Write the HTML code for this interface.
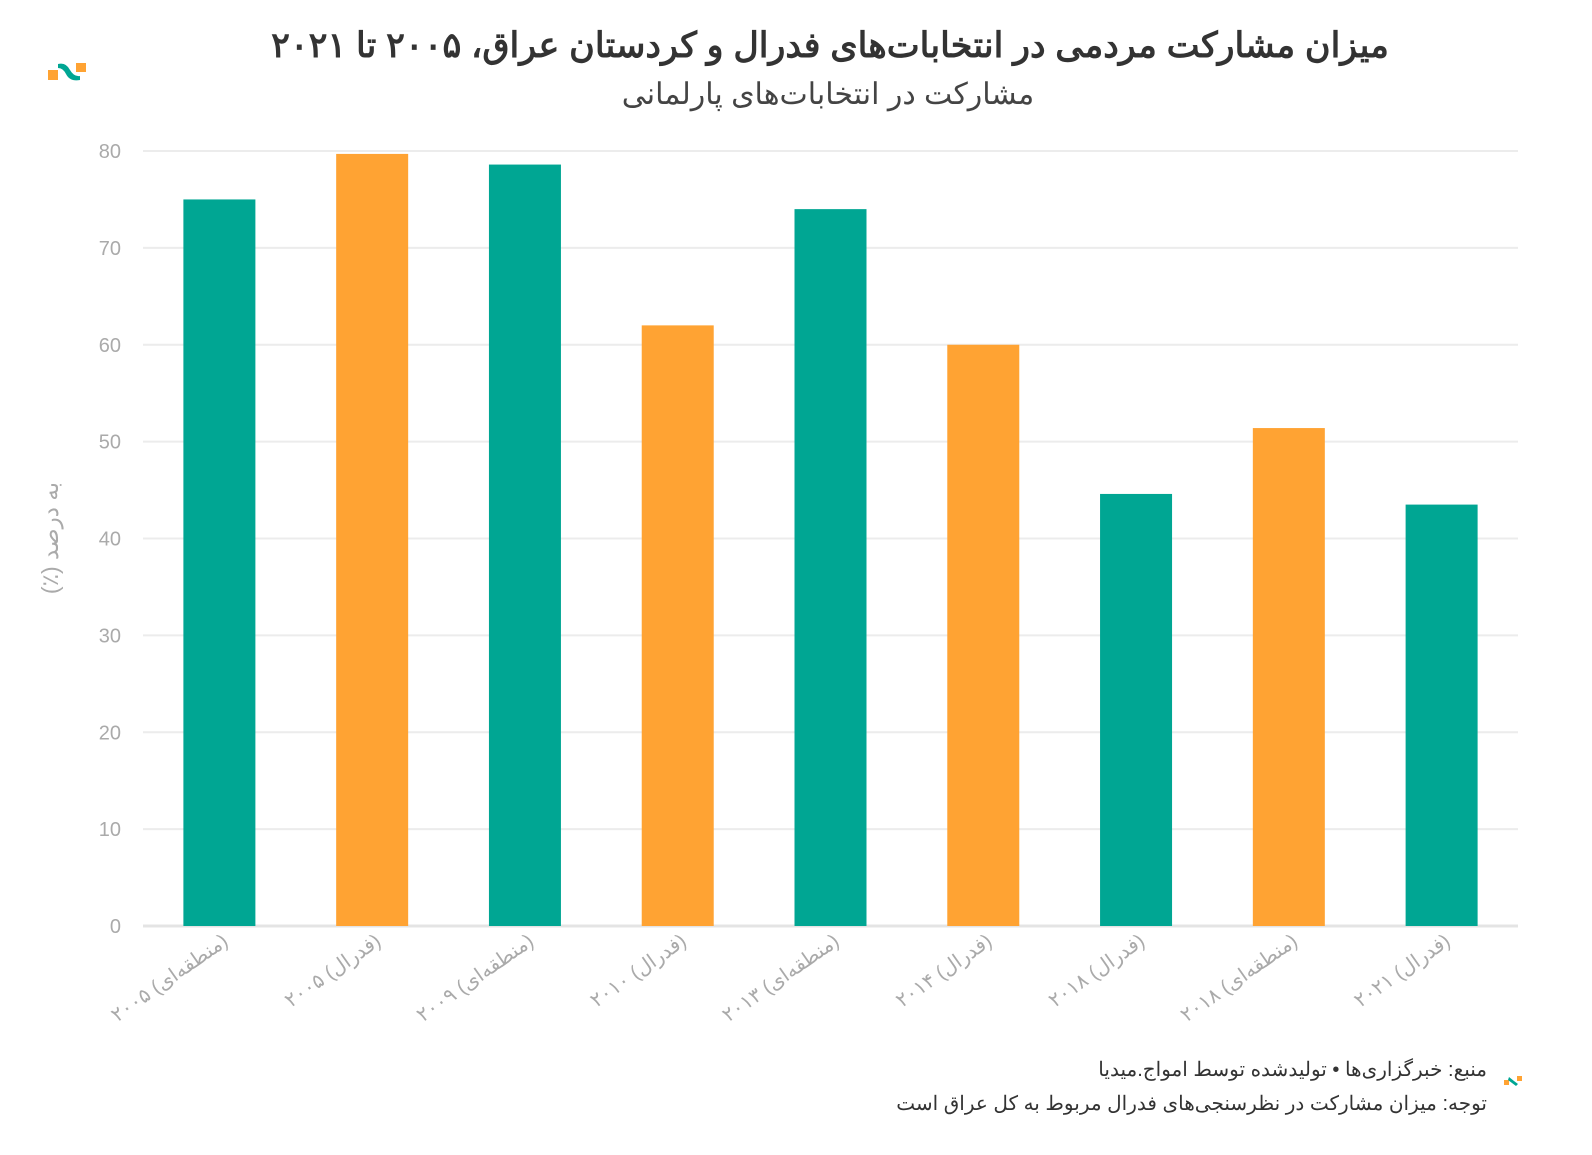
<!DOCTYPE html>
<html><head><meta charset="utf-8">
<style>
body{margin:0;background:#fff;width:1592px;height:1150px;overflow:hidden;font-family:"Liberation Sans","Noto Sans CJK SC",sans-serif;}
</style></head>
<body>
<svg width="1592" height="1150" xmlns="http://www.w3.org/2000/svg">
<g>
<rect x="48" y="70" width="10" height="10" fill="#ffa333"/>
<path d="M58 64 Q66 62 70 70 Q74 77 80 76 L80 80 Q70 82 66 74 Q63 68 58 68 Z" fill="#00a693"/>
<rect x="76" y="63" width="10" height="9" fill="#ffa333"/>
</g>
<text x="830" y="57" text-anchor="middle" font-size="35" font-weight="bold" fill="#333" direction="rtl">میزان مشارکت مردمی در انتخابات‌های فدرال و کردستان عراق، <tspan letter-spacing="9">۲۰۰۵</tspan> تا <tspan letter-spacing="9">۲۰۲۱</tspan></text>
<text x="828" y="104" text-anchor="middle" font-size="30" fill="#444" direction="rtl">مشارکت در انتخابات‌های پارلمانی</text>
<g id="grid"></g>
<g id="bars"></g>
<g id="xlabels"></g>
<text transform="translate(58,538) rotate(-90)" text-anchor="middle" font-size="23" fill="#aaa" direction="rtl">به درصد (٪)</text>
<text x="1487" y="1076" text-anchor="start" direction="rtl" font-size="20" fill="#333">منبع: خبرگزاری‌ها • تولیدشده توسط امواج.میدیا</text>
<text x="1487" y="1110" text-anchor="start" direction="rtl" font-size="20" fill="#333">توجه: میزان مشارکت در نظرسنجی‌های فدرال مربوط به کل عراق است</text>
<g>
<rect x="1504" y="1080" width="5" height="5" fill="#ffa333"/>
<path d="M1509 1077 L1514 1081 L1518 1084 L1516 1086 L1508 1080 Z" fill="#00a693"/>
<rect x="1517" y="1076" width="5" height="5" fill="#ffa333"/>
</g>
</svg>
<script>
const categories=["(منطقه‌ای) ۲۰۰۵","(فدرال) ۲۰۰۵","(منطقه‌ای) ۲۰۰۹","(فدرال) ۲۰۱۰","(منطقه‌ای) ۲۰۱۳","(فدرال) ۲۰۱۴","(فدرال) ۲۰۱۸","(منطقه‌ای) ۲۰۱۸","(فدرال) ۲۰۲۱"];
const values=[75.0,79.7,78.6,62.0,74.0,60.0,44.6,51.4,43.5];
const kinds=["regional","federal","regional","federal","regional","federal","regional","federal","regional"];
const yTicks=[0,10,20,30,40,50,60,70,80];
const NS="http://www.w3.org/2000/svg";
const x0=143,x1=1518,yBase=926,yTop=151,yMax=80;
const band=(x1-x0)/categories.length;
const ys=v=>yBase-(v/yMax)*(yBase-yTop);
const xc=i=>x0+band*(i+0.5);
function mk(tag,attrs,parent){const e=document.createElementNS(NS,tag);for(const k in attrs)e.setAttribute(k,attrs[k]);parent.appendChild(e);return e;}
const grid=document.getElementById('grid');
yTicks.forEach(t=>{
  const l=mk('line',{x1:x0,x2:x1,y1:ys(t),y2:ys(t),stroke:t===0?'#e4e4e4':'#ececec','stroke-width':t===0?3:2},grid);
  
  
  const tx=mk('text',{x:121,y:ys(t)+7,'text-anchor':'end','font-size':20,fill:'#aaa'},grid);
  tx.textContent=t;
  
  
});
const bars=document.getElementById('bars');
const xl=document.getElementById('xlabels');
const bw=72;
values.forEach((v,i)=>{
  const r=mk('rect',{x:xc(i)-bw/2,y:ys(v),width:bw,height:yBase-ys(v),fill:kinds[i]==='regional'?'#00a693':'#ffa333'},bars);
  
  
  const t=mk('text',{transform:`translate(${xc(i)+10},${yBase+18}) rotate(-35)`,'text-anchor':'start',direction:'rtl','font-size':20,fill:'#aaa'},xl);
  t.textContent=categories[i];
  
  
});
</script>
</body></html>
